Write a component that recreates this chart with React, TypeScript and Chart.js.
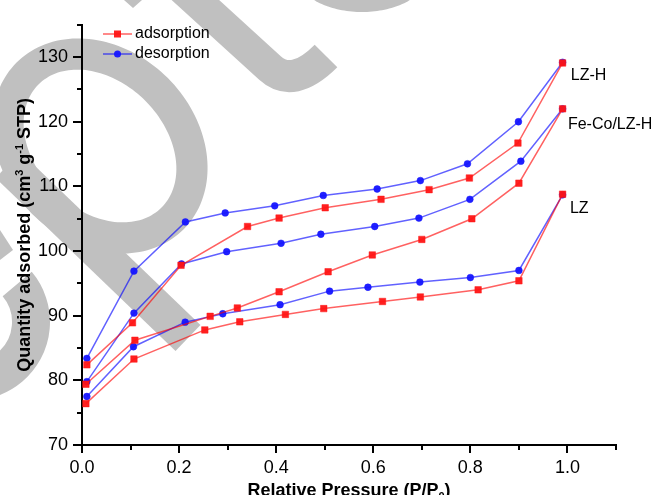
import { useEffect, useRef } from 'react';
import { Chart, registerables } from 'chart.js';

Chart.register(...registerables);

// Relative pressure (P/P0) and quantity adsorbed (cm3 g-1 STP) for each isotherm branch
const lzhAdsP = [0.01, 0.104, 0.204, 0.341, 0.406, 0.501, 0.616, 0.715, 0.798, 0.898, 0.99];
const lzhAdsQ = [82.4, 88.9, 97.8, 103.8, 105.1, 106.7, 108.0, 109.5, 111.3, 116.7, 129.1];
const lzhDesP = [0.01, 0.107, 0.213, 0.295, 0.397, 0.497, 0.608, 0.697, 0.794, 0.899, 0.99];
const lzhDesQ = [83.4, 96.9, 104.5, 105.9, 107.0, 108.6, 109.6, 110.9, 113.5, 120.0, 129.2];
const fecoAdsP = [0.008, 0.109, 0.264, 0.32, 0.406, 0.507, 0.598, 0.7, 0.803, 0.9, 0.99];
const fecoAdsQ = [79.4, 86.2, 89.9, 91.2, 93.7, 96.8, 99.4, 101.8, 105.0, 110.5, 122.0];
const fecoDesP = [0.01, 0.107, 0.205, 0.298, 0.41, 0.492, 0.603, 0.694, 0.799, 0.904, 0.99];
const fecoDesQ = [79.8, 90.4, 98.0, 99.9, 101.2, 102.6, 103.8, 105.1, 108.0, 113.9, 122.0];
const lzAdsP = [0.008, 0.107, 0.253, 0.325, 0.419, 0.498, 0.619, 0.697, 0.816, 0.9, 0.99];
const lzAdsQ = [76.4, 83.3, 87.8, 89.05, 90.2, 91.1, 92.2, 92.9, 94.0, 95.4, 108.8];
const lzDesP = [0.01, 0.106, 0.2125, 0.29, 0.408, 0.51, 0.589, 0.696, 0.8, 0.9, 0.99];
const lzDesQ = [77.5, 85.2, 89.0, 90.3, 91.7, 93.8, 94.4, 95.2, 95.9, 97.0, 108.7];

// Sample names written beside the end of each isotherm pair
const sampleNames = ['LZ-H', 'Fe-Co/LZ-H', 'LZ'];
const sampleLabelP = [1.007, 1.001, 1.005];
const sampleLabelQ = [127.2, 119.6, 106.5];

const branchNames = ['adsorption', 'desorption'];

const X_MIN = 0;
const X_MAX = 1.1;
const Y_MIN = 70;
const Y_MAX = 135;

const W = 653;
const H = 495;
const FONT = '"Liberation Sans", Arial, Helvetica, sans-serif';
const RED_LINE = 'rgba(255, 0, 0, 0.62)';
const RED_PT = 'rgba(255, 20, 20, 0.95)';
const BLUE_LINE = 'rgba(0, 0, 255, 0.62)';
const BLUE_PT = 'rgba(20, 20, 255, 0.95)';
const EMBLEM = '#c0c0c0';

const pts = (xs: number[], ys: number[]) => xs.map((x, i) => ({ x, y: ys[i] }));

function traceEllipse(
  ctx: CanvasRenderingContext2D,
  cx: number,
  cy: number,
  a: number,
  b: number,
  rot: number,
) {
  const n = 160;
  const c = Math.cos(rot);
  const s = Math.sin(rot);
  for (let i = 0; i <= n; i++) {
    const t = (i / n) * Math.PI * 2;
    const ex = a * Math.cos(t);
    const ey = b * Math.sin(t);
    const x = cx + ex * c - ey * s;
    const y = cy + ex * s + ey * c;
    if (i === 0) ctx.moveTo(x, y);
    else ctx.lineTo(x, y);
  }
  ctx.closePath();
}

// Grey emblem on its own canvas underneath the chart
function paintEmblem(ctx: CanvasRenderingContext2D) {
  ctx.save();
  ctx.fillStyle = '#fff';
  ctx.fillRect(0, 0, W, H);
  ctx.fillStyle = EMBLEM;
  ctx.strokeStyle = EMBLEM;
  ctx.lineCap = 'butt';
  ctx.lineJoin = 'round';

  // ring
  ctx.beginPath();
  traceEllipse(ctx, 100, 146, 118, 96, Math.PI / 4);
  traceEllipse(ctx, 100, 146, 87, 64, Math.PI / 4);
  ctx.fill('evenodd');

  // diagonal tail
  ctx.lineWidth = 36;
  ctx.beginPath();
  ctx.moveTo(8, 165);
  ctx.lineTo(188, 338);
  ctx.stroke();

  // hooked stroke at the top
  ctx.lineWidth = 32;
  ctx.beginPath();
  ctx.moveTo(180, -14);
  ctx.lineTo(270, 68);
  ctx.quadraticCurveTo(293, 89, 326, 56);
  ctx.stroke();

  // rounded shape cut by the top edge
  ctx.beginPath();
  traceEllipse(ctx, 362, -25, 65, 37, 0);
  ctx.fill();

  // arc at the left edge
  ctx.lineWidth = 38;
  ctx.beginPath();
  ctx.arc(-28, 322, 59, (-40 * Math.PI) / 180, (120 * Math.PI) / 180);
  ctx.stroke();

  // small fragments
  ctx.beginPath();
  ctx.moveTo(0, 230);
  ctx.lineTo(13, 250);
  ctx.lineTo(0, 260);
  ctx.closePath();
  ctx.fill();
  ctx.beginPath();
  ctx.moveTo(124, 0);
  ctx.lineTo(142, 0);
  ctx.lineTo(133, 8);
  ctx.closePath();
  ctx.fill();
  ctx.restore();
}

function drawRich(
  ctx: CanvasRenderingContext2D,
  parts: { t: string; s: number }[],
  cx: number,
  size: number,
  small: number,
) {
  const widths = parts.map((p) => {
    ctx.font = `bold ${p.s === 0 ? size : small}px ${FONT}`;
    return ctx.measureText(p.t).width;
  });
  const total = widths.reduce((a, b) => a + b, 0);
  let x = cx - total / 2;
  parts.forEach((p, i) => {
    ctx.font = `bold ${p.s === 0 ? size : small}px ${FONT}`;
    ctx.fillText(p.t, x, p.s);
    x += widths[i];
  });
}

// Tick marks, axis titles, legend and sample names
const marksPlugin = {
  id: 'marks',
  afterDraw(chart: any) {
    const ctx = chart.ctx as CanvasRenderingContext2D;
    const xs = chart.scales.x;
    const ys = chart.scales.y;
    const area = chart.chartArea;
    ctx.save();
    ctx.strokeStyle = '#000';
    ctx.lineWidth = 2;
    ctx.lineCap = 'butt';
    // x tick marks: major every 0.2, minor every 0.1
    for (let i = 0; i <= 11; i++) {
      const px = Math.round(xs.getPixelForValue(i / 10));
      const len = i % 2 === 0 ? 8 : 5;
      ctx.beginPath();
      ctx.moveTo(px, area.bottom);
      ctx.lineTo(px, area.bottom + len);
      ctx.stroke();
    }
    // y tick marks: major every 10, minor every 5
    for (let v = Y_MIN; v <= Y_MAX; v += 5) {
      const py = Math.round(ys.getPixelForValue(v));
      const len = v % 10 === 0 ? 9 : 5;
      ctx.beginPath();
      ctx.moveTo(area.left, py);
      ctx.lineTo(area.left - len, py);
      ctx.stroke();
    }

    ctx.fillStyle = '#000';
    ctx.textBaseline = 'alphabetic';
    ctx.textAlign = 'left';

    // x title with subscript
    ctx.save();
    ctx.translate(0, 496);
    drawRich(
      ctx,
      [
        { t: 'Relative Pressure (P/P', s: 0 },
        { t: '0', s: 4 },
        { t: ')', s: 0 },
      ],
      (area.left + area.right) / 2,
      18,
      11,
    );
    ctx.restore();

    // y title with superscripts
    ctx.save();
    ctx.translate(29.5, (area.top + area.bottom) / 2);
    ctx.rotate(-Math.PI / 2);
    drawRich(
      ctx,
      [
        { t: 'Quantity adsorbed (cm', s: 0 },
        { t: '3', s: -7 },
        { t: ' g', s: 0 },
        { t: '-1', s: -7 },
        { t: ' STP)', s: 0 },
      ],
      0,
      18,
      11,
    );
    ctx.restore();

    // legend
    const rows = [
      { y: 34, line: RED_LINE, pt: RED_PT, square: true },
      { y: 54, line: BLUE_LINE, pt: BLUE_PT, square: false },
    ];
    rows.forEach((r, i) => {
      ctx.strokeStyle = r.line;
      ctx.lineWidth = 1.5;
      ctx.beginPath();
      ctx.moveTo(103, r.y);
      ctx.lineTo(132, r.y);
      ctx.stroke();
      ctx.fillStyle = r.pt;
      ctx.beginPath();
      if (r.square) ctx.rect(114, r.y - 3.5, 7, 7);
      else ctx.arc(117.5, r.y, 3.5, 0, Math.PI * 2);
      ctx.fill();
      ctx.fillStyle = '#000';
      ctx.font = `16px ${FONT}`;
      ctx.textBaseline = 'middle';
      ctx.fillText(branchNames[i], 135, r.y);
    });

    // sample names
    ctx.font = `16px ${FONT}`;
    ctx.textBaseline = 'middle';
    ctx.textAlign = 'left';
    sampleNames.forEach((name, i) => {
      ctx.fillText(name, xs.getPixelForValue(sampleLabelP[i]), ys.getPixelForValue(sampleLabelQ[i]));
    });
    ctx.restore();
  },
};

function branch(label: string, xs: number[], ys: number[], ads: boolean) {
  return {
    label,
    data: pts(xs, ys),
    borderColor: ads ? RED_LINE : BLUE_LINE,
    backgroundColor: ads ? RED_PT : BLUE_PT,
    pointBorderColor: ads ? RED_PT : BLUE_PT,
    pointBackgroundColor: ads ? RED_PT : BLUE_PT,
    borderWidth: 1.5,
    pointStyle: ads ? 'rect' : 'circle',
    pointRadius: ads ? 4.6 : 3.4,
    pointBorderWidth: 0.5,
    tension: 0,
    fill: false,
  };
}

export default function App() {
  const backRef = useRef<HTMLCanvasElement | null>(null);
  const canvasRef = useRef<HTMLCanvasElement | null>(null);

  useEffect(() => {
    const back = backRef.current;
    const canvas = canvasRef.current;
    if (!back || !canvas) return;
    const bctx = back.getContext('2d');
    if (bctx) paintEmblem(bctx);

    const chart = new Chart(canvas, {
      type: 'line',
      data: {
        datasets: [
          branch('LZ-H adsorption', lzhAdsP, lzhAdsQ, true),
          branch('LZ-H desorption', lzhDesP, lzhDesQ, false),
          branch('Fe-Co/LZ-H adsorption', fecoAdsP, fecoAdsQ, true),
          branch('Fe-Co/LZ-H desorption', fecoDesP, fecoDesQ, false),
          branch('LZ adsorption', lzAdsP, lzAdsQ, true),
          branch('LZ desorption', lzDesP, lzDesQ, false),
        ] as any,
      },
      options: {
        responsive: false,
        animation: false,
        devicePixelRatio: 1,
        layout: { padding: { top: 14, right: 37, left: 0, bottom: 0 } },
        plugins: { legend: { display: false }, tooltip: { enabled: false } },
        scales: {
          x: {
            type: 'linear',
            min: X_MIN,
            max: X_MAX,
            grid: { display: true, drawOnChartArea: false, drawTicks: false },
            border: { display: true, color: '#000', width: 2 },
            ticks: {
              stepSize: 0.1,
              autoSkip: false,
              maxRotation: 0,
              padding: 12,
              color: '#000',
              font: { family: FONT, size: 18 },
              callback: (v: any) => {
                const n = Math.round(Number(v) * 10);
                return n % 2 === 0 ? (n / 10).toFixed(1) : '';
              },
            },
            afterFit: (s: any) => {
              s.height = 50;
            },
          },
          y: {
            type: 'linear',
            min: Y_MIN,
            max: Y_MAX,
            grid: { display: true, drawOnChartArea: false, drawTicks: false },
            border: { display: true, color: '#000', width: 2 },
            ticks: {
              stepSize: 5,
              autoSkip: false,
              padding: 14,
              color: '#000',
              font: { family: FONT, size: 18 },
              callback: (v: any) => (Number(v) % 10 === 0 ? String(v) : ''),
            },
            afterFit: (s: any) => {
              s.width = 82;
            },
          },
        },
      },
      plugins: [marksPlugin],
    });
    return () => chart.destroy();
  }, []);

  return (
    <div style={{ position: 'fixed', left: 0, top: 0, width: W, height: H }}>
      <canvas
        ref={backRef}
        width={W}
        height={H}
        style={{ position: 'absolute', left: 0, top: 0, display: 'block' }}
      />
      <canvas
        ref={canvasRef}
        width={W}
        height={H}
        style={{ position: 'absolute', left: 0, top: 0, display: 'block' }}
      />
    </div>
  );
}
